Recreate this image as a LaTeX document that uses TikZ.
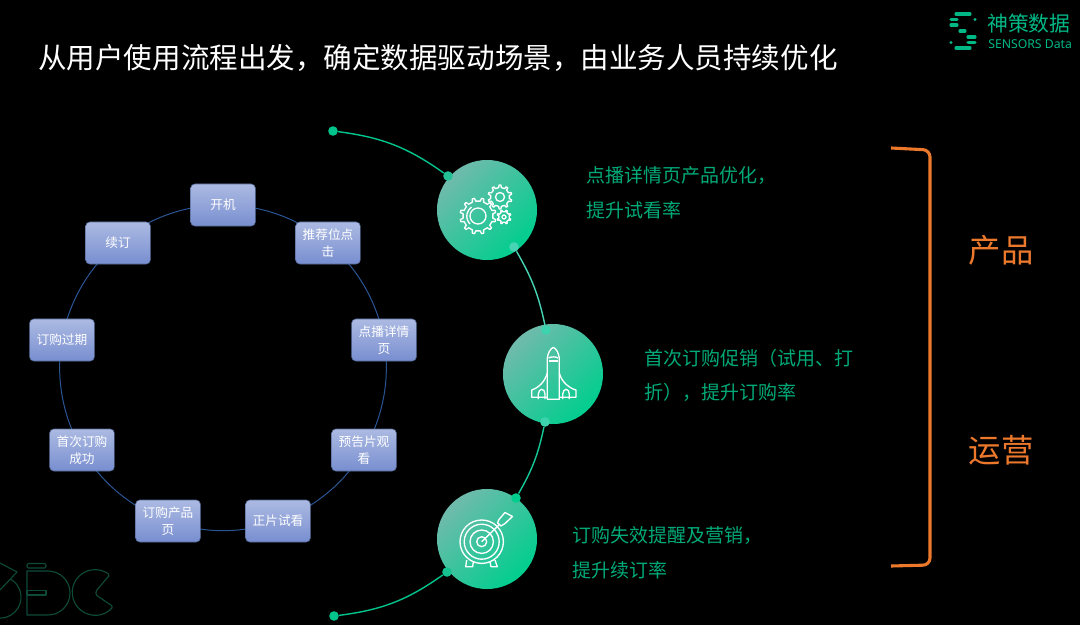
\documentclass[tikz,border=0pt]{standalone}
\usepackage{fontspec}
\setmainfont{Noto Sans CJK SC}
\newfontfamily\latinfont{Noto Sans}
\definecolor{flowblue}{RGB}{42, 86, 150}
\definecolor{boxtop}{RGB}{172, 186, 226}
\definecolor{boxbot}{RGB}{120, 142, 208}
\definecolor{boxline}{RGB}{84, 106, 150}
\definecolor{mintgreen}{RGB}{0, 196, 140}
\definecolor{mintlight}{RGB}{70, 212, 180}
\definecolor{ballgrey}{RGB}{112, 186, 172}
\definecolor{ballgreen}{RGB}{0, 206, 142}
\definecolor{notegreen}{RGB}{0, 170, 120}
\definecolor{logogreen}{RGB}{0, 184, 134}
\definecolor{bracketorange}{RGB}{236, 120, 44}
\definecolor{markgreen}{RGB}{14, 74, 56}
\usetikzlibrary{calc, backgrounds}
\tikzset{
  flowbox/.style={draw=boxline, rounded corners=3pt, top color=boxtop, bottom color=boxbot,
    minimum width=1.62cm, minimum height=1.05cm, inner sep=0pt, align=center,
    text=white, font=\fontsize{9}{12}\selectfont},
  flowlink/.style={draw=flowblue, line width=0.7pt},
  ball/.style={circle, minimum size=2.5cm, inner sep=0pt, top color=ballgrey, bottom color=ballgreen, shading angle=45},
  linkdot/.style={circle, minimum size=0.24cm, inner sep=0pt, fill=#1},
  balllink/.style={draw=#1, line width=1pt},
  note/.style={anchor=west, inner sep=0pt, text=notegreen, font=\fontsize{13.5}{16}\selectfont},
  sidelabel/.style={text=bracketorange, font=\fontsize{23}{26}\selectfont},
  iconline/.style={draw=white, line width=0.95pt, line join=round},
  markline/.style={draw=markgreen, line width=0.8pt, line join=round},
  logobar/.style={draw=logogreen, line width=2.2pt, line cap=round}
}
% one gear outline: x, y, outer radius, inner radius, teeth
\newcommand{\gearicon}[5]{%
  \pgfmathsetmacro{\gs}{360/#5}
  \pgfmathsetmacro{\ge}{360-\gs}
  \pgfmathsetmacro{\gn}{\gs}
  \draw[iconline, shift={(#1,#2)}] ({.28*\gs}:#4)
    \foreach \a in {0,\gn,...,\ge} {
      -- ({\a+.28*\gs}:#4) -- ({\a+.38*\gs}:#3) -- ({\a+.62*\gs}:#3) -- ({\a+.72*\gs}:#4)
    } -- cycle;
}
\begin{document}
\begin{tikzpicture}[x=0.025cm, y=-0.025cm]
  \useasboundingbox (0,0) rectangle (1080,625);

  % watermark bottom left
  \begin{scope}
    \clip (0,540) rectangle (130,625);
    \draw[markline] (0,563) -- (17,572) -- (0,590);
    \draw[markline] (10.5,579) arc[start angle=-60, end angle=90, radius=21];
    \draw[markline] (27,571) -- (48,571) arc[start angle=-90, end angle=90, radius=22] -- (27,615) -- cycle;
    \draw[markline, fill=black] (27,590.5) rectangle (46,595);
    \draw[markline, rounded corners=1pt] (27,563.5) rectangle (46,568);
    \draw[markline, rounded corners=1pt] (113,606.5) arc[start angle=38, end angle=310, radius=22.8]
      -- (96,591) -- (96,595) -- cycle;
  \end{scope}

  % title
  \node[anchor=west, inner sep=0pt, text=white, font=\fontsize{20.3}{24}\selectfont] (title) at (38,58) {从用户使用流程出发，确定数据驱动场景，由业务人员持续优化};

  % logo
  \draw[logobar] (956,14) -- (970,14);
  \draw[logobar] (951,19.5) -- (957,19.5);
  \draw[logobar] (951,25) -- (957,25);
  \draw[logobar] (960,31) -- (965,31);
  \draw[logobar] (968,37) -- (975,37);
  \draw[logobar] (968,42.5) -- (975,42.5);
  \draw[logobar] (956,48) -- (970,48);
  \fill[logogreen] (975,19.5) circle (1.6);
  \fill[logogreen] (951,42.5) circle (1.6);
  \node[anchor=west, inner sep=0pt, text=logogreen, font=\fontsize{14.8}{16}\selectfont] (logocn) at (987,24) {神策数据};
  \node[anchor=west, inner sep=0pt, text=logogreen, font=\latinfont\fontsize{8.7}{10}\selectfont] (logoen) at (988,44) {SENSORS Data};

  % usage flow ring
  \node[flowbox] (open) at (223,205) {开机};
  \node[flowbox] (slot) at (328,243) {推荐位点\\击};
  \node[flowbox] (detail) at (384,340) {点播详情\\页};
  \node[flowbox] (trailer) at (364,450) {预告片观\\看};
  \node[flowbox] (trial) at (278,521) {正片试看};
  \node[flowbox] (product) at (168,521) {订购产品\\页};
  \node[flowbox] (firstbuy) at (82,450) {首次订购\\成功};
  \node[flowbox] (expire) at (62,340) {订购过期};
  \node[flowbox] (renew) at (118,243) {续订};
  \begin{scope}[on background layer]
    \fill[black] (0,0) rectangle (1080,625);
    \foreach \a/\b in {open/slot, slot/detail, detail/trailer, trailer/trial, trial/product, product/firstbuy, firstbuy/expire, expire/renew, renew/open}
      \draw[flowlink] (\a.center) to[bend left=20, looseness=0.88] (\b.center);
  \end{scope}

  % balls and their links
  \node[ball] (gears) at (487,210) {};
  \node[ball] (rocket) at (553,374) {};
  \node[ball] (target) at (487,539) {};
  \node[linkdot=mintgreen] (d1) at (333,131) {};
  \node[linkdot=mintgreen!70!ballgrey] (d2) at (448,176) {};
  \node[linkdot=mintlight] (d3) at (514,247) {};
  \node[linkdot=mintlight!85!ballgreen] (d4) at (546,330) {};
  \node[linkdot=mintlight!85!ballgreen] (d5) at (545,422) {};
  \node[linkdot=ballgreen] (d6) at (516,498) {};
  \node[linkdot=mintgreen!80!ballgrey] (d7) at (447,572) {};
  \node[linkdot=mintgreen] (d8) at (334,616) {};
  \draw[balllink=mintgreen] (d1) to[bend left=14] (d2);
  \draw[balllink=mintlight] (d3) to[bend left=9] (d4);
  \draw[balllink=mintgreen!70!mintlight] (d5) to[bend left=9] (d6);
  \draw[balllink=mintgreen] (d7) to[bend left=14] (d8);

  % gears icon
  \gearicon{478}{216}{18}{15}{12}
  \gearicon{500}{197}{12}{9.5}{10}
  \gearicon{504}{217}{7}{5.3}{8}
  \draw[iconline] (478,216) circle (8);
  \draw[iconline] (470,224) arc[start angle=135, end angle=235, radius=11];
  \draw[iconline] (500,197) circle (4.5);
  \draw[iconline] (504,217) circle (2);

  % rocket icon
  \draw[iconline] (547.3,399.3) -- (547.3,358) .. controls (548,353) and (550,349) .. (553.3,347.3)
    .. controls (556.6,349) and (558.6,353) .. (559.3,358) -- (559.3,399.3) -- cycle;
  \draw[iconline] (548.5,358) .. controls (551,356.5) and (556,356.5) .. (558,358);
  \draw[iconline] (549,361) -- (557.5,361);
  \draw[iconline] (547.3,373) .. controls (545,382) and (538,388) .. (531.7,390) -- (531.7,397.3) -- (547.3,397.3);
  \draw[iconline] (559.3,373) .. controls (561.6,382) and (569,388) .. (576,390) -- (576,397.3) -- (559.3,397.3);
  \draw[iconline] (538.3,399) -- (538.3,394) .. controls (538.5,391) and (540,389.5) .. (541.7,389.3)
    .. controls (543.5,389.5) and (545,391) .. (545,394) -- (545,399);
  \draw[iconline] (562.7,399) -- (562.7,394) .. controls (563,391) and (564.5,389.5) .. (566,389.3)
    .. controls (568,389.5) and (569.3,391) .. (569.3,394) -- (569.3,399);

  % target icon
  \foreach \r in {21.7,17.5,11.7,5}
    \draw[iconline] (481.7,541.7) circle (\r);
  \draw[iconline] (481.7,541.7) -- (500,524);
  \draw[iconline] (499,519.5) -- (505,512.5) -- (512.5,516.5) -- (505,523.5) -- (501,526) -- (497.5,523) -- cycle;
  \draw[iconline] (466.7,560) -- (465.7,566.7) -- (472.7,566.7) -- (473.3,562);
  \draw[iconline] (490,562) -- (491,566.7) -- (497.3,566.7) -- (495,560);

  % notes
  \node[note] (n1a) at (586,176) {点播详情页产品优化，};
  \node[note] (n1b) at (586,210) {提升试看率};
  \node[note] (n2a) at (644,358) {首次订购促销（试用、打};
  \node[note] (n2b) at (644,392) {折），提升订购率};
  \node[note] (n3a) at (572,536) {订购失效提醒及营销，};
  \node[note] (n3b) at (572,570) {提升续订率};

  % bracket and side labels
  \draw[bracketorange, line width=2.2pt, rounded corners=5pt] (891,148) -- (930,150) -- (930,565) -- (891,566);
  \node[sidelabel] (prod) at (1001,250) {产品};
  \node[sidelabel] (ops) at (1001,450) {运营};
\end{tikzpicture}
\end{document}
